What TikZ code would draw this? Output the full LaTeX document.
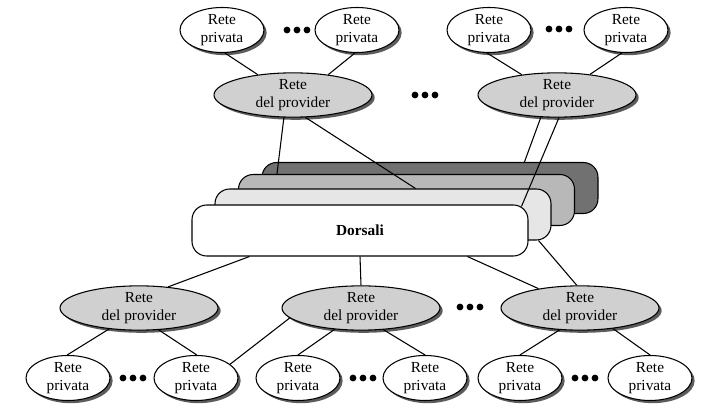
\documentclass[tikz,border=0pt]{standalone}
\usepackage{fontspec}
\setmainfont{Liberation Serif}
\usetikzlibrary{shapes.geometric, shadows, calc}

\begin{document}
\begin{tikzpicture}[x=0.75pt,y=0.75pt,yscale=-1,xscale=1,
		font=\fontsize{11.5}{13.5}\selectfont,
		privnet/.style={ellipse, draw, line width=0.8pt, fill=white, inner sep=0pt, align=center,
			minimum width=63pt, minimum height=33.75pt,
			drop shadow={shadow xshift=2pt, shadow yshift=-2pt, fill=black!80, opacity=0.8}},
		provnet/.style={privnet, fill={rgb,255:red,208;green,208;blue,208}, minimum width=118.5pt, minimum height=33pt},
		backbone/.style={draw, line width=0.8pt, rounded corners=11pt, minimum width=252pt, minimum height=38.25pt},
		link/.style={line width=0.8pt},
		ellipsisdots/.pic={\foreach \dx in {-10,0,10} \fill (\dx,0) circle (3.4);}]
	\useasboundingbox (0,0) rectangle (708,413);

	%Shape: Backbone layers, back to front
	\node [backbone, fill={rgb,255:red,113;green,113;blue,113}] (bb4) at (430,188) {};
	\node [backbone, fill={rgb,255:red,184;green,184;blue,184}] (bb3) at (406.5,200) {};
	\node [backbone, fill={rgb,255:red,230;green,230;blue,230}] (bb2) at (383,214.5) {};
	\node [backbone, fill=white] (bb1) at (360,230.5) {\textbf{Dorsali}};

	%Shape: Ellipse, top row
	\node [privnet] (tp1) at (222,30) {Rete\\privata};
	\node [privnet] (tp2) at (357,30) {Rete\\privata};
	\node [privnet] (tp3) at (489,30) {Rete\\privata};
	\node [privnet] (tp4) at (626,30) {Rete\\privata};
	\node [provnet] (pt1) at (293,95) {Rete\\del provider};
	\node [provnet] (pt2) at (557,95) {Rete\\del provider};

	%Shape: Ellipse, bottom row
	\node [provnet] (pb1) at (139,308) {Rete\\del provider};
	\node [provnet] (pb2) at (361,308) {Rete\\del provider};
	\node [provnet] (pb3) at (580,308) {Rete\\del provider};
	\node [privnet] (pv1) at (68,378) {Rete\\privata};
	\node [privnet] (pv2) at (196,378) {Rete\\privata};
	\node [privnet] (pv3) at (298,378) {Rete\\privata};
	\node [privnet] (pv4) at (425,378) {Rete\\privata};
	\node [privnet] (pv5) at (520,378) {Rete\\privata};
	\node [privnet] (pv6) at (650,378) {Rete\\privata};

	%Dots
	\pic at (297,30) {ellipsisdots};
	\pic at (559,29) {ellipsisdots};
	\pic at (425,95) {ellipsisdots};
	\pic at (470,307) {ellipsisdots};
	\pic at (133,378) {ellipsisdots};
	\pic at (363,378) {ellipsisdots};
	\pic at (585,378) {ellipsisdots};

	%Straight Lines, top
	\draw [link] (tp1.277) -- (pt1.150);
	\draw [link] (tp2.265) -- (pt1.30);
	\draw [link] (tp3.265) -- (pt2.150);
	\draw [link] (tp4.260) -- (pt2.32);
	\draw [link] (pt1.248) -- ($(bb3.north west)+(39,0)$);
	\draw [link] (pt1.299) -- ($(bb2.north west)+(201,0)$);
	\draw [link] (pt2.234) -- ($(bb4.north west)+(263,0)$);
	\draw [link] (pt2.275) -- ($(bb1.north west)+(330,2)$);

	%Straight Lines, bottom
	\draw [link] ($(bb1.south west)+(58,0)$) -- (pb1.36);
	\draw [link] (bb1.south) -- (pb2.north);
	\draw [link] ($(bb1.south west)+(276,0)$) -- (pb3.155);
	\draw [link] ($(bb2.south east)+(-13,0)$) -- (pb3.98);
	\draw [link] (pb1.215) -- (pv1.92);
	\draw [link] (pb1.312) -- (pv2.88);
	\draw [link] (pb2.188) -- (pv2.22);
	\draw [link] (pb2.219) -- (pv3.90);
	\draw [link] (pb2.316) -- (pv4.90);
	\draw [link] (pb3.227) -- (pv5.90);
	\draw [link] (pb3.328) -- (pv6.90);
\end{tikzpicture}
\end{document}
